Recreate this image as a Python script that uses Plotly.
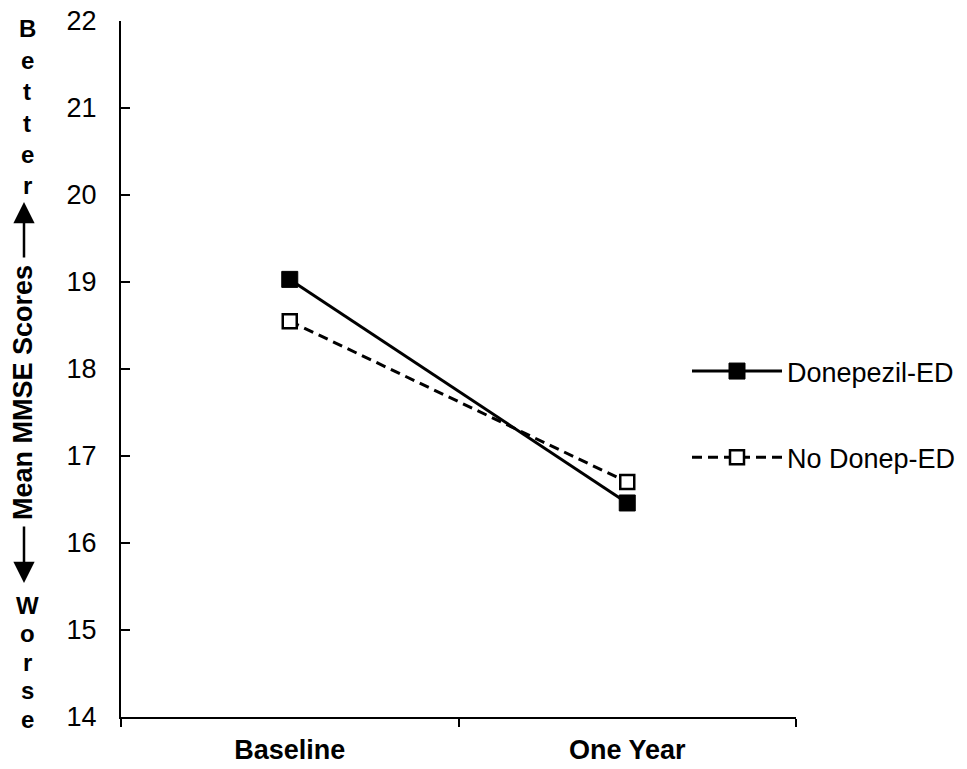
import plotly.graph_objects as go

categories = ["Baseline", "One Year"]
donepezil_ed = [19.03, 16.46]
no_donep_ed = [18.55, 16.70]
series_names = ["Donepezil-ED", "No Donep-ED"]
y_ticks = [14, 15, 16, 17, 18, 19, 20, 21, 22]

W, H = 967, 769
ML, MR, MT, MB = 121, 171, 21, 52
PW = W - ML - MR
PH = H - MT - MB


def px2paper(px, py):
    return (px - ML) / PW, (H - MB - py) / PH


FONT = "Liberation Sans, Arial, sans-serif"

fig = go.Figure()
fig.add_trace(go.Scatter(
    x=categories, y=donepezil_ed, name=series_names[0], mode="lines+markers",
    line=dict(color="black", width=3),
    marker=dict(symbol="square", size=16, color="black", line=dict(color="black", width=1)),
    legendgroup="a",
))
fig.add_trace(go.Scatter(
    x=categories, y=no_donep_ed, name=series_names[1], mode="lines+markers",
    line=dict(color="black", width=3, dash="10px,6px"),
    marker=dict(symbol="square", size=14, color="white", line=dict(color="black", width=2.5)),
    legendgroup="b",
))

annotations = []
# rotated title
tx, ty = px2paper(23, 393)
annotations.append(dict(text="<b>Mean MMSE Scores</b>", x=tx, y=ty, xref="paper", yref="paper",
                        textangle=-90, showarrow=False, xanchor="center", yanchor="middle",
                        font=dict(family=FONT, size=27, color="black")))
# arrows
for tip, tail in [((24, 202), (24, 259)), ((24, 583), (24, 525))]:
    hx, hy = px2paper(*tip)
    annotations.append(dict(text="", x=hx, y=hy, xref="paper", yref="paper", showarrow=True,
                            ax=tail[0] - tip[0], ay=tail[1] - tip[1], axref="pixel", ayref="pixel",
                            arrowhead=2, arrowsize=1.7, arrowwidth=2.5, arrowcolor="black"))
# stacked letters
better = list("Better")
worse = list("Worse")
for i, ch in enumerate(better):
    bx, by = px2paper(27, 32 + 31.4 * i - 3)
    annotations.append(dict(text="<b>%s</b>" % ch, x=bx, y=by, xref="paper", yref="paper",
                            showarrow=False, xanchor="center", yanchor="middle",
                            font=dict(family=FONT, size=24, color="black")))
for i, ch in enumerate(worse):
    bx, by = px2paper(27, 612 + 28.6 * i - 7)
    annotations.append(dict(text="<b>%s</b>" % ch, x=bx, y=by, xref="paper", yref="paper",
                            showarrow=False, xanchor="center", yanchor="middle",
                            font=dict(family=FONT, size=24, color="black")))

lx, ly = px2paper(687, 347)
fig.update_layout(
    width=W, height=H,
    margin=dict(l=ML, r=MR, t=MT, b=MB, pad=0, autoexpand=False),
    plot_bgcolor="white", paper_bgcolor="white",
    font=dict(family=FONT, size=27, color="black"),
    showlegend=True,
    legend=dict(x=lx, y=ly, xanchor="left", yanchor="top", bgcolor="rgba(0,0,0,0)",
                font=dict(family=FONT, size=27, color="black"), itemwidth=90,
                tracegroupgap=48, traceorder="grouped"),
    annotations=annotations,
    xaxis=dict(type="category", range=[-0.5, 1.5], tickson="boundaries", ticks="outside",
               ticklen=8, tickwidth=2,
               tickcolor="black", showline=True, linecolor="black", linewidth=2, showgrid=False,
               zeroline=False, tickfont=dict(family=FONT, size=27, color="black"),
               tickprefix="<b>", ticksuffix="</b>", fixedrange=True, ticklabelstandoff=8),
    yaxis=dict(range=[14, 22], tickvals=y_ticks, ticks="inside", ticklen=9, tickwidth=2,
               tickcolor="black", showline=True, linecolor="black", linewidth=2, showgrid=False,
               zeroline=False, tickfont=dict(family=FONT, size=27, color="black"),
               ticklabelstandoff=17),
)
fig.write_html("out.html", config={"displayModeBar": False},
               post_script="document.body.style.margin='0';document.body.style.padding='0';")
